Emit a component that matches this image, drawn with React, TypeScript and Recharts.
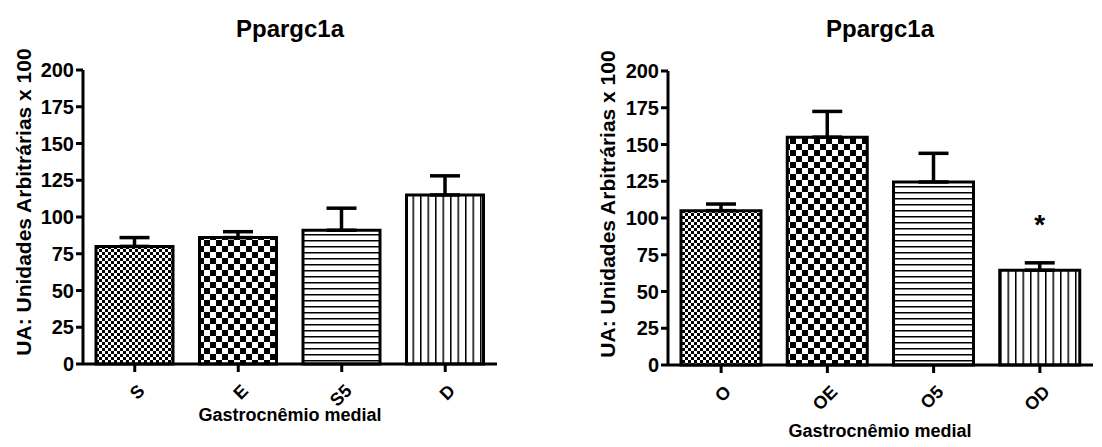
import { BarChart, Bar, XAxis, YAxis, ErrorBar, Cell, LabelList } from "recharts";

const leftGroups = ["S", "E", "S5", "D"];
const leftMeans = [80, 86, 91, 115];
const leftSem = [6, 4, 15, 13];

const rightGroups = ["O", "OE", "O5", "OD"];
const rightMeans = [105, 155, 124.5, 64.5];
const rightSem = [4.5, 17.5, 19.5, 5];
const rightMarks = ["", "", "", "*"];

const yTicks = [0, 25, 50, 75, 100, 125, 150, 175, 200];

const chartTitle = "Ppargc1a";
const xTitle = "Gastrocnêmio medial";
const yTitle = "UA: Unidades Arbitrárias x 100";

const FONT = "'Liberation Sans', Arial, Helvetica, sans-serif";
const patternFills = ["url(#fineCheck)", "url(#coarseCheck)", "url(#hLines)", "url(#vLines)"];

function XTick(props: any) {
  const { x, y, payload } = props;
  const ax = x + 11;
  const ay = y + 18;
  return (
    <text
      x={ax}
      y={ay}
      transform={`rotate(-45 ${ax} ${ay})`}
      textAnchor="end"
      fontSize={18}
      fontWeight="bold"
      fill="#000"
    >
      {payload.value}
    </text>
  );
}

function Star(props: any) {
  const { x, y, width, value } = props;
  if (!value) return null;
  return (
    <text x={x + width / 2} y={y - 36} textAnchor="middle" fontSize={28} fontWeight="bold" fill="#000">
      {value}
    </text>
  );
}

function Panel({ groups, means, sem, marks, yAxisWidth, top, bottom, right, barSize }: any) {
  const rows = groups.map((g: string, i: number) => ({
    name: g,
    value: means[i],
    err: [0, sem[i]],
    mark: marks ? marks[i] : "",
  }));
  return (
    <BarChart width={560} height={447} data={rows} margin={{ top, right, bottom: bottom - 30, left: 0 }} barSize={barSize}>
      <XAxis
        dataKey="name"
        height={30}
        interval={0}
        tickSize={8}
        axisLine={{ stroke: "#000", strokeWidth: 3 }}
        tickLine={{ stroke: "#000", strokeWidth: 3 }}
        tick={<XTick />}
      />
      <YAxis
        width={yAxisWidth}
        domain={[0, 200]}
        ticks={yTicks}
        interval={0}
        tickSize={7}
        axisLine={{ stroke: "#000", strokeWidth: 3 }}
        tickLine={{ stroke: "#000", strokeWidth: 3 }}
        tick={{ fontSize: 20, fontWeight: "bold", fill: "#000" }}
      />
      <Bar dataKey="value" stroke="#000" strokeWidth={3} isAnimationActive={false}>
        {rows.map((_: any, i: number) => (
          <Cell key={i} fill={patternFills[i]} />
        ))}
        <ErrorBar dataKey="err" width={15} stroke="#000" strokeWidth={3.5} direction="y" />
        <LabelList dataKey="mark" content={<Star />} />
      </Bar>
    </BarChart>
  );
}

export default function App() {
  return (
    <div
      style={{
        position: "absolute",
        left: 0,
        top: 0,
        width: 1102,
        height: 447,
        overflow: "hidden",
        background: "#fff",
        fontFamily: FONT,
      }}
    >
      <svg width={0} height={0} style={{ position: "absolute" }}>
        <defs>
          <pattern id="fineCheck" width={6} height={6} patternUnits="userSpaceOnUse">
            <rect width={6} height={6} fill="#fff" />
            <rect x={0} y={0} width={3} height={3} fill="#000" />
            <rect x={3} y={3} width={3} height={3} fill="#000" />
          </pattern>
          <pattern id="coarseCheck" width={12} height={12} patternUnits="userSpaceOnUse">
            <rect width={12} height={12} fill="#fff" />
            <rect x={0} y={0} width={6} height={6} fill="#000" />
            <rect x={6} y={6} width={6} height={6} fill="#000" />
          </pattern>
          <pattern id="hLines" width={8} height={6} patternUnits="userSpaceOnUse">
            <rect width={8} height={6} fill="#fff" />
            <rect x={0} y={0} width={8} height={1.5} fill="#000" />
          </pattern>
          <pattern id="vLines" width={7.5} height={8} patternUnits="userSpaceOnUse">
            <rect width={7.5} height={8} fill="#fff" />
            <rect x={0} y={0} width={1.5} height={8} fill="#000" />
          </pattern>
        </defs>
      </svg>

      <div style={{ position: "absolute", left: 0, top: 0 }}>
        <Panel
          groups={leftGroups}
          means={leftMeans}
          sem={leftSem}
          yAxisWidth={83}
          top={70}
          bottom={83}
          right={63}
          barSize={77}
        />
      </div>
      <div style={{ position: "absolute", left: 580, top: 0 }}>
        <Panel
          groups={rightGroups}
          means={rightMeans}
          sem={rightSem}
          marks={rightMarks}
          yAxisWidth={88}
          top={71}
          bottom={82}
          right={47}
          barSize={80}
        />
      </div>

      <svg
        width={1102}
        height={447}
        style={{ position: "absolute", left: 0, top: 0, pointerEvents: "none" }}
        fontFamily={FONT}
        fontWeight="bold"
        fill="#000"
      >
        <text x={290} y={37} fontSize={24} textAnchor="middle">{chartTitle}</text>
        <text x={880} y={37} fontSize={24} textAnchor="middle">{chartTitle}</text>
        <text x={31} y={202} fontSize={21} textAnchor="middle" transform="rotate(-90 31 202)">{yTitle}</text>
        <text x={615} y={204} fontSize={21} textAnchor="middle" transform="rotate(-90 615 204)">{yTitle}</text>
        <text x={290} y={421} fontSize={18} textAnchor="middle">{xTitle}</text>
        <text x={880} y={437} fontSize={18} textAnchor="middle">{xTitle}</text>
      </svg>
    </div>
  );
}
